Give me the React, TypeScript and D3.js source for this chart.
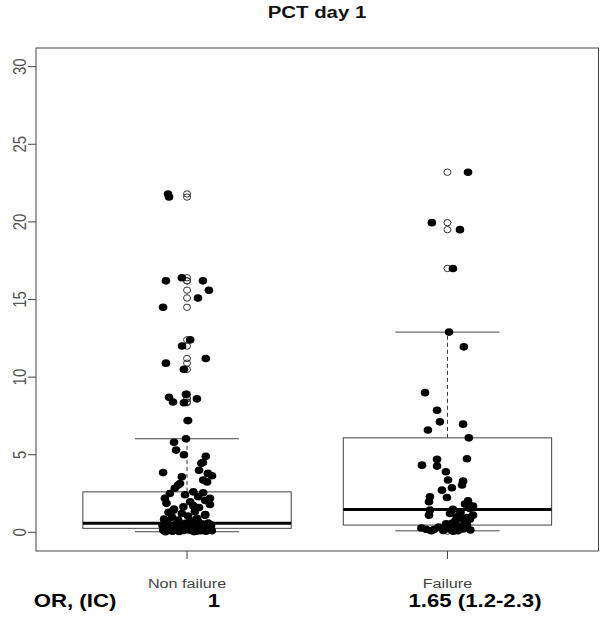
import * as d3 from "d3";

const categories = ["Non failure", "Failure"];
const oddsRatios = ["1", "1.65 (1.2-2.3)"];
const yTicks = [0, 5, 10, 15, 20, 25, 30];

// box statistics
const whiskerLow = [0.04, 0.1];
const q1 = [0.26, 0.47];
const median = [0.58, 1.48];
const q3 = [2.61, 6.09];
const whiskerHigh = [6.03, 12.9];

const nonFailureValues = [
  21.8, 21.6, 16.4, 16.2, 16.2, 15.6, 15.1, 14.5, 12.4, 12.0,
  11.2, 10.9, 10.5, 8.9, 8.7, 8.6, 8.4, 8.35, 7.2, 6.03,
  5.8, 5.3, 5.0, 4.9, 4.5, 4.45, 4.0, 3.85, 3.8, 3.65,
  3.58, 3.37, 3.25, 3.15, 3.05, 2.84, 2.61, 2.55, 2.5, 2.42,
  2.3, 2.2, 2.19, 2.05, 1.97, 1.87, 1.8, 1.72, 1.65, 1.6,
  1.5, 1.43, 1.35, 1.3, 1.22, 1.15, 1.11, 1.05, 0.98, 0.9,
  0.85, 0.79, 0.75, 0.7, 0.65, 0.6, 0.58, 0.55, 0.5, 0.48,
  0.45, 0.42, 0.4, 0.38, 0.35, 0.33, 0.3, 0.28, 0.26, 0.24,
  0.22, 0.2, 0.18, 0.16, 0.15, 0.14, 0.12, 0.1, 0.09, 0.08,
  0.07, 0.06, 0.05, 0.04, 0.2, 0.3, 0.1, 0.5, 0.15, 0.25,
];
const nonFailureJitter = [
  -0.073, -0.069, -0.02, -0.081, 0.061, 0.084, 0.042, -0.092, 0.012, -0.019,
  0.072, -0.081, -0.012, -0.004, -0.069, 0.038, -0.054, -0.012, 0.004, -0.004,
  -0.05, -0.042, -0.012, 0.072, 0.061, 0.055, 0.046, -0.092, 0.08, 0.096,
  -0.02, 0.062, 0.077, -0.027, -0.034, -0.047, 0.024, 0.062, -0.066, -0.008,
  0.043, 0.088, -0.085, 0.07, 0.012, -0.079, 0.088, 0.024, -0.014, 0.046,
  -0.05, -0.052, 0.03, -0.071, -0.02, 0.07, 0.069, 0.004, -0.058, 0.038,
  -0.088, -0.034, 0.012, 0.043, -0.075, 0.081, -0.007, 0.057, -0.045, 0.02,
  -0.094, 0.092, 0.066, -0.061, -0.023, 0.034, 0.077, -0.082, 0.005, 0.049,
  -0.04, 0.086, -0.072, 0.018, 0.061, -0.091, -0.013, 0.095, 0.039, -0.056,
  0.073, -0.03, 0.027, -0.083, -0.06, -0.045, 0.053, 0.09, 0.008, 0.067,
];

const failureValues = [
  23.2, 19.95, 19.5, 17.0, 12.9, 11.95, 9.0, 7.87, 7.12, 6.97,
  6.59, 6.09, 4.74, 4.7, 4.33, 4.27, 3.9, 3.37, 3.3, 3.05,
  2.87, 2.72, 2.29, 2.25, 2.03, 1.97, 1.82, 1.69, 1.54, 1.48,
  1.44, 1.22, 1.11, 1.11, 1.0, 0.9, 0.85, 0.68, 0.58, 0.55,
  0.47, 0.4, 0.35, 0.3, 0.28, 0.25, 0.22, 0.2, 0.18, 0.15,
  0.12, 0.1, 0.1, 0.08, 0.95, 1.3, 0.75, 0.2,
];
const failureJitter = [
  0.079, -0.06, 0.048, 0.021, 0.006, 0.063, -0.086, -0.04, -0.029, 0.06,
  -0.075, 0.082, 0.075, -0.04, -0.098, -0.04, -0.006, 0.002, 0.06, 0.056,
  0.017, -0.021, -0.067, -0.002, 0.079, -0.071, 0.067, 0.098, 0.086, 0.021,
  -0.067, 0.01, -0.071, 0.098, 0.036, 0.056, 0.086, 0.067, 0.017, -0.005,
  0.075, 0.048, -0.034, 0.032, -0.1, 0.007, 0.06, -0.082, -0.052, 0.088,
  -0.016, 0.04, -0.063, 0.022, 0.075, 0.05, 0.03, 0.01,
];

const groups = [
  { values: nonFailureValues, jitter: nonFailureJitter },
  { values: failureValues, jitter: failureJitter },
];

const W = 600;
const H = 639;
const frame = { left: 36, right: 598.5, top: 48, bottom: 551 };
const font = "'Liberation Sans', Arial, Helvetica, sans-serif";
const SX = 1.2; // the original picture is stretched sideways

export default function App() {
  const x = d3.scaleLinear().domain([0.42, 2.58]).range([frame.left, frame.right]);
  const y = d3.scaleLinear().domain([-1.2, 31.2]).range([frame.bottom, frame.top]);
  const boxW = x(0.8) - x(0);
  const capW = x(0.4) - x(0);

  return (
    <svg width={W} height={H} style={{ position: "absolute", left: 0, top: 0 }}>
      <rect width={W} height={H} fill="#fff" />
      <text transform={`translate(317,18) scale(${SX},1)`} textAnchor="middle"
        fontFamily={font} fontWeight="bold" fontSize={17} fill="#111">PCT day 1</text>

      {/* y axis */}
      {yTicks.map((t) => (
        <g key={t}>
          <line x1={frame.left - 8} x2={frame.left} y1={y(t)} y2={y(t)} stroke="#444" />
          <text transform={`translate(26,${y(t)}) scale(${SX},1) rotate(-90)`} textAnchor="middle"
            fontFamily={font} fontSize={15} fill="#555">{t}</text>
        </g>
      ))}

      {/* x axis */}
      {categories.map((c, i) => (
        <g key={c}>
          <line x1={x(i + 1)} x2={x(i + 1)} y1={frame.bottom} y2={frame.bottom + 8} stroke="#444" />
          <text transform={`translate(${x(i + 1)},588) scale(${SX},1)`} textAnchor="middle"
            fontFamily={font} fontSize={13.5} fill="#444">{c}</text>
        </g>
      ))}

      {/* boxes */}
      {categories.map((c, i) => {
        const cx = x(i + 1);
        const g = groups[i];
        const outliers = g.values.filter((v) => v > whiskerHigh[i] || v < whiskerLow[i]);
        return (
          <g key={c}>
            <line x1={cx} x2={cx} y1={y(q3[i])} y2={y(whiskerHigh[i])} stroke="#333" strokeDasharray="4,3" />
            <line x1={cx} x2={cx} y1={y(q1[i])} y2={y(whiskerLow[i])} stroke="#333" strokeDasharray="4,3" />
            <line x1={cx - capW / 2} x2={cx + capW / 2} y1={y(whiskerHigh[i])} y2={y(whiskerHigh[i])} stroke="#444" />
            <line x1={cx - capW / 2} x2={cx + capW / 2} y1={y(whiskerLow[i])} y2={y(whiskerLow[i])} stroke="#444" />
            <rect x={cx - boxW / 2} y={y(q3[i])} width={boxW} height={y(q1[i]) - y(q3[i])}
              fill="none" stroke="#444" />
            <line x1={cx - boxW / 2} x2={cx + boxW / 2} y1={y(median[i])} y2={y(median[i])} stroke="#000" strokeWidth={3} />
            {outliers.map((v, k) => (
              <ellipse key={k} cx={cx} cy={y(v)} rx={3.5} ry={3.2} fill="none" stroke="#333" />
            ))}
          </g>
        );
      })}

      {/* jittered points */}
      {groups.map((g, i) =>
        g.values.map((v, k) => (
          <ellipse key={`${i}-${k}`} cx={x(i + 1 + g.jitter[k])} cy={y(v)} rx={4.3} ry={3.8} fill="#000" />
        ))
      )}

      <rect x={frame.left} y={frame.top} width={frame.right - frame.left} height={frame.bottom - frame.top}
        fill="none" stroke="#444" />

      {/* odds ratio row */}
      <text transform={`translate(75,607) scale(${SX},1)`} textAnchor="middle"
        fontFamily={font} fontWeight="bold" fontSize={18.5} fill="#000">OR, (IC)</text>
      {oddsRatios.map((o, i) => (
        <text key={o} transform={`translate(${i === 0 ? 214 : 475},607) scale(${SX},1)`} textAnchor="middle"
          fontFamily={font} fontWeight="bold" fontSize={18.5} fill="#000">{o}</text>
      ))}
    </svg>
  );
}
